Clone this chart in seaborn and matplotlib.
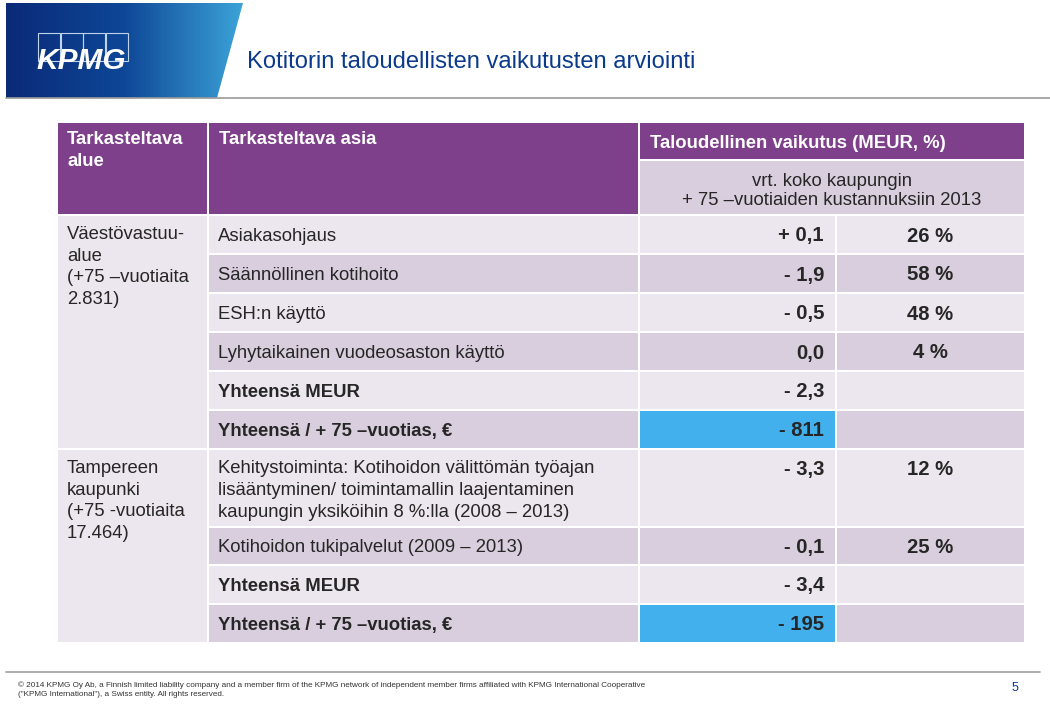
import numpy as np
import matplotlib.pyplot as plt
import seaborn as sns
from matplotlib.patches import Rectangle, Polygon
from matplotlib.colors import LinearSegmentedColormap

sns.set_style("white")
plt.rcParams["font.family"] = ["Liberation Sans", "DejaVu Sans"]

# ---- data ----
title = "Kotitorin taloudellisten vaikutusten arviointi"
header_cols = ["Tarkasteltava\nalue", "Tarkasteltava asia", "Taloudellinen vaikutus (MEUR, %)"]
sub_header = "vrt. koko kaupungin\n+ 75 –vuotiaiden kustannuksiin 2013"

areas = ["Väestövastuu-\nalue\n(+75 –vuotiaita\n2.831)",
         "Tampereen\nkaupunki\n(+75 -vuotiaita\n17.464)"]
area_rows = [6, 4]  # number of item rows per area

items = ["Asiakasohjaus", "Säännöllinen kotihoito", "ESH:n käyttö",
         "Lyhytaikainen vuodeosaston käyttö", "Yhteensä MEUR",
         "Yhteensä / + 75 –vuotias, €",
         "Kehitystoiminta: Kotihoidon välittömän työajan\nlisääntyminen/ toimintamallin laajentaminen\nkaupungin yksiköihin 8 %:lla (2008 – 2013)",
         "Kotihoidon tukipalvelut (2009 – 2013)", "Yhteensä MEUR",
         "Yhteensä / + 75 –vuotias, €"]
meur = ["+ 0,1", "- 1,9", "- 0,5", "0,0", "- 2,3", "- 811",
        "- 3,3", "- 0,1", "- 3,4", "- 195"]
pct = ["26 %", "58 %", "48 %", "4 %", "", "", "12 %", "25 %", "", ""]
bold_item = [False, False, False, False, True, True, False, False, True, True]
highlight = [False, False, False, False, False, True, False, False, False, True]

footer = ("© 2014 KPMG Oy Ab, a Finnish limited liability company and a member firm of the KPMG network of "
          "independent member firms affiliated with KPMG International Cooperative\n"
          "(\"KPMG International\"), a Swiss entity. All rights reserved.")
page_no = "5"

# ---- layout (pixels) ----
W, H = 1050, 707
col_x = [58, 209, 640, 837, 1024]   # column edges
gap = 2
head_top, head_bot, head_mid = 123, 214, 159
row_h = [37, 37, 37, 37, 37, 37, 76, 36, 37, 37]
body_top = 216
fs = 13.3      # body text size
fs_num = 14.6  # value size
base_off = 6.5  # baseline offset below the row centre

purple = "#7E3F8B"
light = "#ECE7EE"
dark = "#D9CEDD"
blue = "#41B0EC"
navy = "#0B3A8C"

fig = plt.figure(figsize=(W / 100, H / 100), dpi=100)
ax = fig.add_axes([0, 0, 1, 1])

# banner gradient
cmap = LinearSegmentedColormap.from_list("kpmg", ["#0A2A78", "#0E4797", "#3CA3D8"])
grad = np.linspace(0, 1, 256).reshape(1, -1)
im = ax.imshow(grad, extent=[6, 243, 98, 3], cmap=cmap, aspect="auto", zorder=1)
banner = Polygon([(6, 3), (243, 3), (217, 98), (6, 98)], closed=True,
                 facecolor="none", edgecolor="none")
ax.add_patch(banner)
im.set_clip_path(banner)

# KPMG logo
for i in range(4):
    ax.add_patch(Rectangle((38 + i * 22.5, 33), 22, 28, fill=False,
                           edgecolor="#BFD3EA", lw=0.8, zorder=2))
ax.text(81, 61, "KPMG", color="white", fontsize=21.5, fontweight="bold",
        fontstyle="italic", ha="center", va="center", zorder=3)

ax.text(247, 62, title, color=navy, fontsize=17.1, ha="left", va="center")
ax.plot([6, W], [98, 98], color="#9A9A9A", lw=1.2)

def cell(x0, x1, y0, y1, color):
    ax.add_patch(Rectangle((x0, y0), x1 - x0, y1 - y0, facecolor=color,
                           edgecolor="none", zorder=2))

# header
cell(col_x[0], col_x[1] - gap, head_top, head_bot, purple)
cell(col_x[1], col_x[2] - gap, head_top, head_bot, purple)
cell(col_x[2], col_x[4], head_top, head_mid, purple)
cell(col_x[2], col_x[4], head_mid + 2, head_bot, dark)
hdr = dict(color="white", fontsize=fs, fontweight="bold", zorder=4)
ax.text(col_x[0] + 9, 131, header_cols[0], ha="left", va="top", linespacing=1.38, **hdr)
ax.text(col_x[1] + 10, 131, header_cols[1], ha="left", va="top", **hdr)
ax.text(col_x[2] + 10, (head_top + head_mid) / 2 + base_off, header_cols[2],
        ha="left", va="baseline", **hdr)
ax.text((col_x[2] + col_x[4]) / 2, 191, sub_header,
        ha="center", va="center", fontsize=fs, linespacing=1.22, zorder=4)

# body rows
tops = [body_top]
for h in row_h[:-1]:
    tops.append(tops[-1] + h + gap)

for i, (it, m, p) in enumerate(zip(items, meur, pct)):
    y0 = tops[i]
    y1 = y0 + row_h[i]
    bg = light if i % 2 == 0 else dark
    cell(col_x[1], col_x[2] - gap, y0, y1, bg)
    cell(col_x[2], col_x[3] - gap, y0, y1, blue if highlight[i] else bg)
    cell(col_x[3], col_x[4], y0, y1, bg)
    fw = "bold" if bold_item[i] else "normal"
    if "\n" in it:
        ax.text(col_x[1] + 9, y0 + 10, it, ha="left", va="top", fontsize=fs,
                linespacing=1.38, fontweight=fw, zorder=4)
        ty = y0 + 18 + base_off
    else:
        ty = (y0 + y1) / 2 + base_off
        ax.text(col_x[1] + 9, ty, it, ha="left", va="baseline", fontsize=fs,
                fontweight=fw, zorder=4)
    ax.text(col_x[3] - 13, ty + 0.5, m, ha="right", va="baseline", fontsize=fs_num,
            fontweight="bold", zorder=4)
    if p:
        ax.text((col_x[3] + col_x[4]) / 2, ty + 0.5, p, ha="center", va="baseline",
                fontsize=fs_num, fontweight="bold", zorder=4)

# area cells (merged)
start = 0
for area, n in zip(areas, area_rows):
    y0 = tops[start]
    y1 = tops[start + n - 1] + row_h[start + n - 1]
    cell(col_x[0], col_x[1] - gap, y0, y1, light)
    ax.text(col_x[0] + 9, y0 + 10, area, ha="left", va="top", fontsize=fs,
            linespacing=1.36, zorder=4)
    start += n

# footer
ax.plot([6, 1040], [672, 672], color="#A0A0A0", lw=1.2)
ax.text(18, 690, footer, ha="left", va="center", fontsize=5.85, linespacing=1.35, color="#333333")
ax.text(1015, 688, page_no, ha="center", va="center", fontsize=9, color=navy)

ax.set_xlim(0, W)
ax.set_ylim(H, 0)
ax.axis("off")
fig.savefig("out.png", dpi=100)
